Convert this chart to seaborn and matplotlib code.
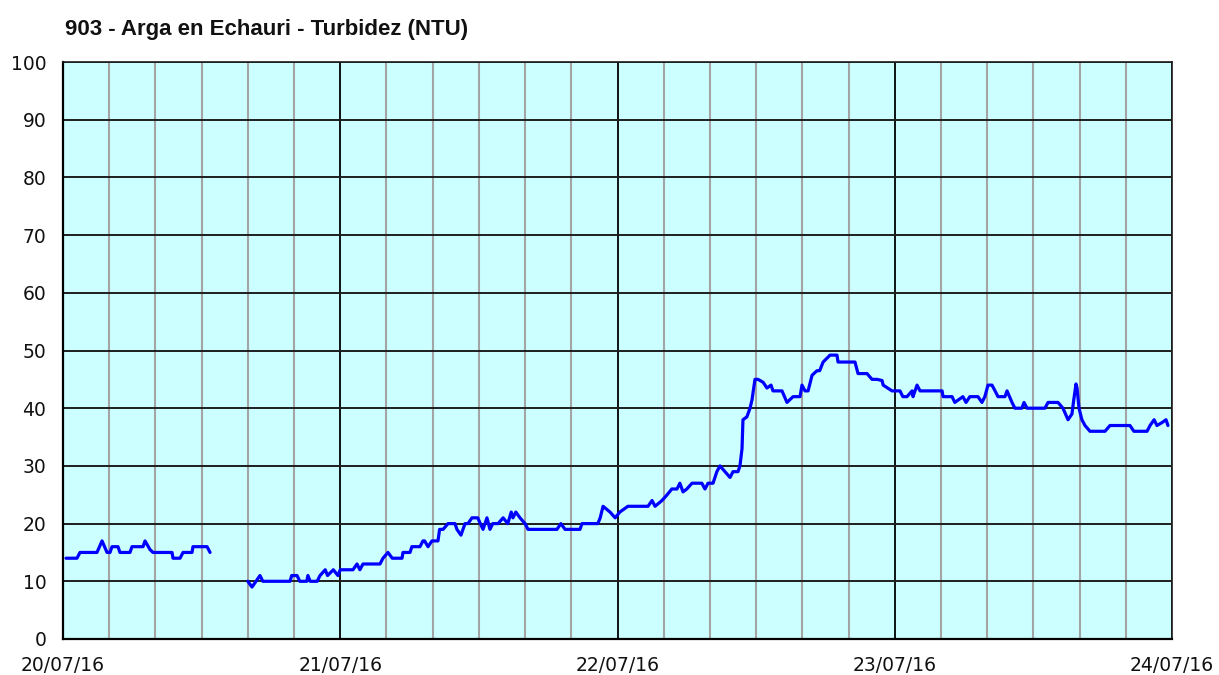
import numpy as np
import pandas as pd
import matplotlib
matplotlib.use("Agg")
import matplotlib.pyplot as plt
import matplotlib.dates as mdates
import seaborn as sns

# Turbidity readings (hours after 20/07/16 00:00, NTU)
seg1_hours = [0.26, 1.21, 1.47, 2.94, 3.38, 3.81, 4.07, 4.24, 4.76, 4.93, 5.80, 5.97,
              6.93, 7.10, 7.53, 7.79, 9.44, 9.52, 10.13, 10.39, 11.17, 11.25, 12.47, 12.73]
seg1_ntu = [14, 14, 15, 15, 17, 15, 15, 16, 16, 15, 15, 16,
            16, 17, 15.5, 15, 15, 14, 14, 15, 15, 16, 16, 15]

seg2_hours = [16.0, 16.36, 16.7, 17.05, 17.3, 19.65, 19.8, 20.26, 20.5, 21.1, 21.2, 21.4,
              22.0, 22.25, 22.7, 22.9, 23.4, 23.8, 24.0, 25.1, 25.45, 25.7, 25.97, 27.44,
              27.7, 28.13, 28.5, 29.35, 29.43, 30.04, 30.2, 30.9, 31.16, 31.3, 31.6, 31.94,
              32.46, 32.6, 32.9, 33.33, 33.93, 34.1, 34.45, 34.8, 35.06, 35.4, 35.9, 36.36,
              36.7, 36.96, 37.2, 37.66, 38.1, 38.5, 38.8, 38.95, 39.2, 39.56, 40.0, 40.25,
              42.76, 43.1, 43.46, 44.75, 44.93, 46.3, 46.5, 46.75, 47.35, 47.8, 48.2, 48.9,
              50.64, 50.99, 51.25, 51.85, 52.3, 52.7, 53.15, 53.4, 53.67, 54.0, 54.45, 55.3,
              55.57, 55.84, 56.27, 56.6, 56.87, 57.3, 57.74, 58.0, 58.43, 58.6, 58.78, 58.86,
              59.2, 59.47, 59.64, 59.9, 60.16, 60.6, 60.94, 61.29, 61.46, 62.24, 62.67, 63.2,
              63.8, 63.97, 64.23, 64.5, 64.84, 65.27, 65.5, 65.8, 66.4, 67.0, 67.09, 68.56,
              68.82, 69.6, 70.03, 70.46, 70.9, 71.0, 71.76, 72.45, 72.7, 73.06, 73.5, 73.58,
              73.93, 74.19, 76.1, 76.18, 76.96, 77.2, 77.9, 78.17, 78.5, 79.2, 79.55, 79.8,
              80.07, 80.42, 80.68, 80.94, 81.54, 81.72, 82.15, 82.4, 83.0, 83.19, 83.45, 85.0,
              85.27, 86.13, 86.56, 87.0, 87.34, 87.5, 87.69, 87.78, 87.95, 88.2, 88.47, 88.9,
              90.2, 90.63, 92.36, 92.7, 93.84, 94.1, 94.45, 94.7, 95.13, 95.48, 95.65]
seg2_ntu = [10, 9, 10, 11, 10, 10, 11, 11, 10, 10, 11, 10,
            10, 11, 12, 11, 12, 11, 12, 12, 13, 12, 13, 13,
            14, 15, 14, 14, 15, 15, 16, 16, 17, 17, 16, 17,
            17, 19, 19, 20, 20, 19, 18, 20, 20, 21, 21, 19,
            21, 19, 20, 20, 21, 20, 22, 21, 22, 21, 20, 19,
            19, 20, 19, 19, 20, 20, 21, 23, 22, 21, 22, 23,
            23, 24, 23, 24, 25, 26, 26, 27, 25.5, 26, 27, 27,
            26, 27, 27, 29, 30, 29, 28, 29, 29, 30, 33, 38,
            38.5, 40, 41.4, 45, 45, 44.5, 43.5, 44, 43, 43, 41, 42,
            42, 44, 43, 43, 45.7, 46.5, 46.5, 48, 49.2, 49.2, 48, 48,
            46, 46, 45, 45, 44.8, 44, 43, 43, 42, 42, 43, 42,
            44, 43, 43, 42, 42, 41, 42, 41, 42, 42, 41, 42,
            44, 44, 43, 42, 42, 43, 41, 40, 40, 41, 40, 40,
            41, 41, 40, 38, 39, 41.5, 44.2, 43.5, 40, 38, 37, 36,
            36, 37, 37, 36, 36, 37, 38, 37, 37.5, 38, 37]

y_ticks = list(range(0, 101, 10))
day_labels = ["20/07/16", "21/07/16", "22/07/16", "23/07/16", "24/07/16"]

start = pd.Timestamp("2016-07-20 00:00")
df1 = pd.DataFrame({"time": start + pd.to_timedelta(seg1_hours, unit="h"), "ntu": seg1_ntu})
df2 = pd.DataFrame({"time": start + pd.to_timedelta(seg2_hours, unit="h"), "ntu": seg2_ntu})

sns.set_style("white")
plt.rcParams["font.family"] = ["DejaVu Sans"]

fig = plt.figure(figsize=(12.19, 6.75), dpi=100)
ax = fig.add_axes([63 / 1219, 36 / 675, 1109 / 1219, 577 / 675])
ax.set_facecolor("#CCFFFF")

sns.lineplot(data=df1, x="time", y="ntu", ax=ax, color="#0000FF", linewidth=2.3)
sns.lineplot(data=df2, x="time", y="ntu", ax=ax, color="#0000FF", linewidth=2.3)

ax.set_xlim(pd.Timestamp("2016-07-20"), pd.Timestamp("2016-07-24"))
ax.set_ylim(0, 100)
ax.set_xlabel("")
ax.set_ylabel("")

ax.xaxis.set_major_locator(mdates.DayLocator())
ax.xaxis.set_minor_locator(mdates.HourLocator(byhour=range(0, 24, 4)))
ax.set_yticks(y_ticks)
ax.set_xticks([pd.Timestamp("2016-07-%d" % d) for d in range(20, 25)])
ax.set_xticklabels(day_labels)

ax.grid(which="minor", axis="x", color="#A4A4A4", linewidth=1.5)
ax.grid(which="major", axis="x", color="#000000", linewidth=1.3)
ax.grid(which="major", axis="y", color="#1E1E1E", linewidth=1.4)
ax.set_axisbelow(True)

ax.tick_params(axis="both", which="major", direction="out", length=5, width=1.2,
               color="black", labelsize=13.5, labelcolor="#111111")
ax.tick_params(axis="y", which="major", pad=7)
ax.tick_params(axis="x", which="minor", length=0)
ax.tick_params(axis="x", which="major", pad=7)

for side in ["left", "bottom"]:
    ax.spines[side].set_color("black")
    ax.spines[side].set_linewidth(1.6)
for side in ["top", "right"]:
    ax.spines[side].set_color("#1E1E1E")
    ax.spines[side].set_linewidth(1.2)

fig.text(65 / 1219, 1 - 30 / 675, "903 - Arga en Echauri - Turbidez (NTU)",
         family=["Liberation Sans", "DejaVu Sans"], fontweight="bold", fontsize=16,
         color="#111111", ha="left", va="center")

fig.savefig("out.png", dpi=100, facecolor="white")
